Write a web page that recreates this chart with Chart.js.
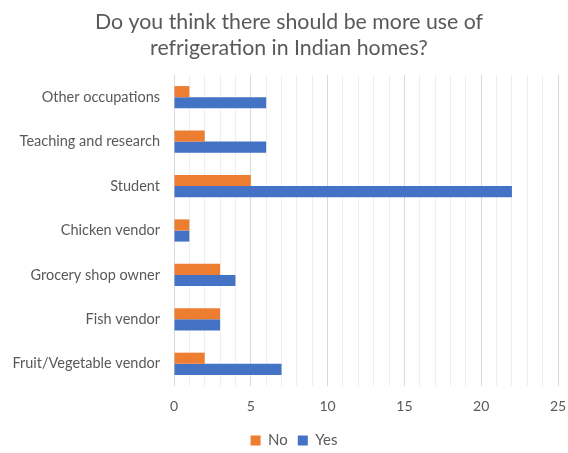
<!DOCTYPE html>
<html lang="en">
<head>
    <meta charset="UTF-8">
    <title>Refrigeration survey</title>
    <script src="https://cdn.jsdelivr.net/npm/chart.js"></script>
    <style>
        html, body { margin: 0; padding: 0; background: #fff; }
        #wrap { width: 568px; height: 453px; }
    </style>
</head>
<body>
    <div id="wrap"><canvas id="surveyChart"></canvas></div>

    <script>
        // survey answers per occupation, listed top to bottom
        const occupations = ['Other occupations', 'Teaching and research', 'Student', 'Chicken vendor',
            'Grocery shop owner', 'Fish vendor', 'Fruit/Vegetable vendor'];
        const noCounts = [1, 2, 5, 1, 3, 3, 2];
        const yesCounts = [6, 6, 22, 1, 4, 3, 7];
        const xTicks = [0, 5, 10, 15, 20, 25];

        const textGrey = '#595959';
        const fontName = 'Lato, "Open Sans", sans-serif';

        // nudge title and legend a little to the right, over/under the bars
        const boxNudge = {
            id: 'boxNudge',
            afterLayout(chart) {
                chart.titleBlock.left += 4;
                chart.titleBlock.right += 4;
                chart.legend.left += 9;
                chart.legend.right += 9;
            }
        };

        const ctx = document.getElementById('surveyChart').getContext('2d');
        const surveyChart = new Chart(ctx, {
            type: 'bar',
            data: {
                labels: occupations,
                datasets: [
                    {
                        label: 'No',
                        data: noCounts,
                        backgroundColor: '#ED7D31',
                        barPercentage: 1,
                        categoryPercentage: 0.5
                    },
                    {
                        label: 'Yes',
                        data: yesCounts,
                        backgroundColor: '#4472C4',
                        barPercentage: 1,
                        categoryPercentage: 0.5
                    }
                ]
            },
            options: {
                indexAxis: 'y',
                responsive: true,
                maintainAspectRatio: false,
                animation: false,
                layout: { padding: { left: 12, right: 10, top: 9, bottom: -5 } },
                scales: {
                    x: {
                        min: xTicks[0],
                        max: xTicks[xTicks.length - 1],
                        ticks: {
                            stepSize: 1,
                            autoSkip: false,
                            maxRotation: 0,
                            color: textGrey,
                            font: { family: fontName, size: 14 },
                            padding: 12,
                            callback: (v) => xTicks.includes(v) ? String(v) : ''
                        },
                        grid: {
                            drawTicks: false,
                            color: (c) => (c.tick && c.tick.value % 5 === 0) ? '#D9D9D9' : '#EFEFEF'
                        },
                        border: { display: false },
                        // "25" fits inside the right padding; keep a fixed gap down to the legend
                        afterFit: (scale) => {
                            scale.paddingRight = 0;
                            scale.height = 37;
                        }
                    },
                    y: {
                        ticks: {
                            color: textGrey,
                            font: { family: fontName, size: 14.5 },
                            padding: 14
                        },
                        grid: { display: false, drawTicks: false },
                        border: { display: false },
                        afterFit: (scale) => { scale.width = 162; }
                    }
                },
                plugins: {
                    title: {
                        display: true,
                        text: ['Do you think there should be more use of', 'refrigeration in Indian homes?'],
                        color: textGrey,
                        font: { family: fontName, size: 21.3, weight: 'normal', lineHeight: 1.22 },
                        padding: { top: 0, bottom: 14 }
                    },
                    legend: {
                        position: 'bottom',
                        labels: {
                            color: textGrey,
                            font: { family: fontName, size: 15 },
                            boxWidth: 10,
                            boxHeight: 10,
                            padding: 10
                        }
                    },
                    tooltip: { enabled: false }
                }
            },
            plugins: [boxNudge]
        });
    </script>
</body>
</html>
